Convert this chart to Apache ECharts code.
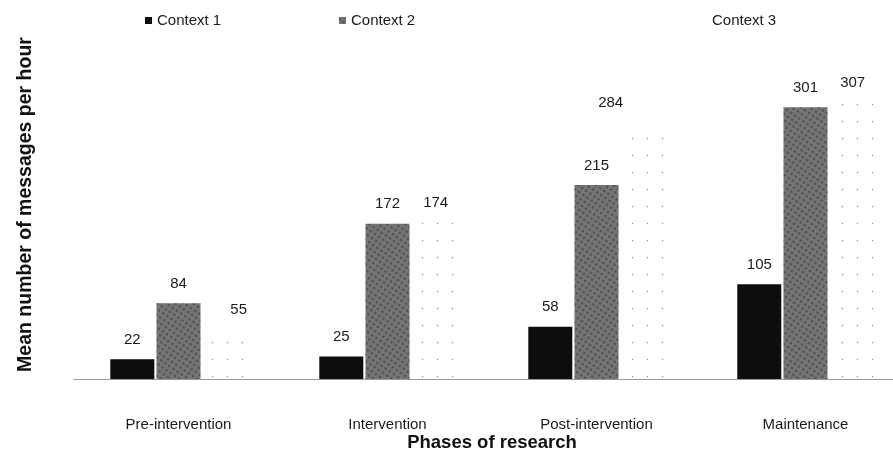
<!DOCTYPE html>
<html>
<head>
<meta charset="utf-8">
<script src="https://cdn.jsdelivr.net/npm/echarts@6/dist/echarts.min.js"></script>
<style>
  html, body { margin: 0; padding: 0; background: #fff; }
  #chart { width: 893px; height: 450px; }
</style>
</head>
<body>
<div id="chart"></div>
<script>
// Phases of the study and the mean message rate in each context
const phases = ['Pre-intervention', 'Intervention', 'Post-intervention', 'Maintenance'];
const context1 = [22, 25, 58, 105];
const context2 = [84, 172, 215, 301];
const context3 = [55, 174, 284, 307];
const seriesNames = ['Context 1', 'Context 2', 'Context 3'];

const FONT = '"Liberation Sans", Arial, sans-serif';

// Per-bar horizontal nudges of the Context 3 value labels
const c3LabelShift = [14, 2, -32, 1];

const chart = echarts.init(document.getElementById('chart'), null, { renderer: 'canvas' });

const labelBase = {
  show: true,
  position: 'top',
  distance: 12,
  fontFamily: FONT,
  fontSize: 15,
  color: '#1a1a1a'
};

// speckled texture for the Context 2 bars
const mottled = {
  symbol: 'circle',
  symbolSize: 0.9,
  color: 'rgba(25,25,25,0.42)',
  dashArrayX: [3, 2],
  dashArrayY: [3, 2],
  rotation: 0.6
};

// sparse dot pattern for the Context 3 bars
const sparseDots = {
  symbol: 'diamond',
  symbolSize: 0.35,
  color: 'rgba(110,110,110,0.8)',
  dashArrayX: [5, 10],
  dashArrayY: [5, 12]
};

function legendAt(item, left) {
  return {
    data: [item],
    left: left,
    top: 8,
    itemWidth: 7,
    itemHeight: 7,
    itemGap: 6,
    icon: 'rect',
    selectedMode: false,
    textStyle: { fontFamily: FONT, fontSize: 15, color: '#1a1a1a' }
  };
}

const option = {
  backgroundColor: '#ffffff',
  animation: false,
  aria: { enabled: false },
  legend: [
    legendAt(seriesNames[0], 140),
    legendAt(seriesNames[1], 334),
    legendAt({ name: seriesNames[2], itemStyle: { opacity: 0 } }, 695)
  ],
  grid: {
    left: 74,
    width: 836,
    top: 18,
    bottom: 71,
    containLabel: false,
    outerBoundsMode: 'none'
  },
  xAxis: {
    type: 'category',
    data: phases,
    name: 'Phases of research',
    nameLocation: 'middle',
    nameGap: 54,
    nameMoveOverlap: false,
    nameTextStyle: { fontFamily: FONT, fontSize: 18.5, fontWeight: 'bold', color: '#111' },
    axisLine: { show: true, lineStyle: { color: '#9a9a9a', width: 1.2 } },
    axisTick: { show: false },
    axisLabel: { margin: 38, fontFamily: FONT, fontSize: 15, color: '#1a1a1a' }
  },
  yAxis: {
    type: 'value',
    min: 0,
    max: 400,
    interval: 100,
    name: 'Mean number of messages per hour',
    nameLocation: 'middle',
    nameGap: 38,
    nameRotate: 90,
    nameTextStyle: {
      fontFamily: FONT,
      fontSize: 19.5,
      fontWeight: 'bold',
      color: '#111',
      padding: [0, 12, 0, 0]
    },
    axisLine: { show: false },
    axisTick: { show: false },
    axisLabel: { show: false },
    splitLine: { show: false }
  },
  series: [
    {
      name: seriesNames[0],
      type: 'bar',
      data: context1,
      barWidth: 44,
      barGap: '5%',
      itemStyle: { color: '#0d0d0d' },
      label: labelBase
    },
    {
      name: seriesNames[1],
      type: 'bar',
      data: context2,
      barWidth: 44,
      barGap: '5%',
      itemStyle: { color: '#767676', decal: mottled },
      label: labelBase
    },
    {
      name: seriesNames[2],
      type: 'bar',
      data: context3.map((v, i) => ({
        value: v,
        label: { offset: [c3LabelShift[i], 0] }
      })),
      barWidth: 44,
      barGap: '5%',
      itemStyle: { color: '#ffffff', decal: sparseDots },
      label: labelBase
    }
  ]
};

chart.setOption(option);
</script>
</body>
</html>
